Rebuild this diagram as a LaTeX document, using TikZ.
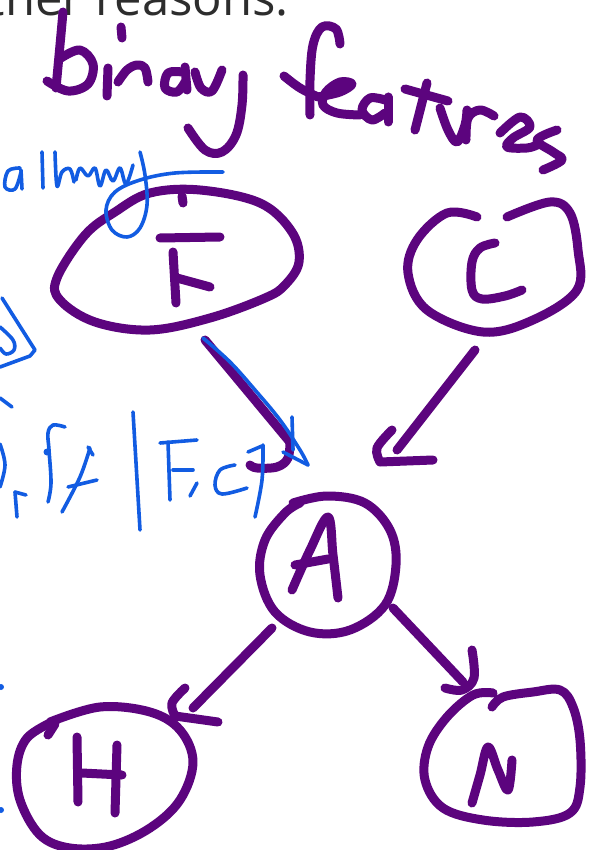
\documentclass[tikz,border=0pt]{standalone}
\usepackage{fontspec}
\newfontfamily\slidefont{Open Sans}
\definecolor{inkpurple}{RGB}{92,4,126}
\definecolor{inkblue}{RGB}{18,92,226}
\definecolor{slidegray}{RGB}{45,45,45}
\begin{document}
\begin{tikzpicture}[x=1pt,y=-1pt,
  ink/.style={draw=inkpurple,line width=9pt,line cap=round,line join=round},
  pen/.style={draw=inkblue,line width=3.6pt,line cap=round,line join=round},
  curve/.style={smooth,tension=0.6}]
\useasboundingbox (0,0) rectangle (596,850);
\clip (0,0) rectangle (596,850);
\fill[white] (0,0) rectangle (596,850);

% slide text running off the top edge
\node[anchor=base east,inner sep=0,text=slidegray,
      font=\slidefont\fontsize{49}{58}\selectfont] (heading) at (289,16) {ther reasons:};

% ---------- handwritten title: binary features ----------
% b
\draw[ink] plot[curve] coordinates {(63,12) (60,45) (56,88)};
\draw[ink] plot[curve] coordinates {(61,58) (80,50) (93,64) (88,84) (68,91) (47,81)};
% i
\draw[ink] (121,27) -- (122,38);
\draw[ink] (108,68) -- (107,96);
% n
\draw[ink] plot[curve] coordinates {(118,82) (127,70) (137,65) (145,68) (148,82)};
% a
\draw[ink] plot[curve] coordinates {(182,72) (168,73) (165,88) (177,92) (185,82)};
\draw[ink] (185,67) -- (187,90);
% y
\draw[ink] plot[curve] coordinates {(195,72) (201,88) (212,91) (222,70)};
\draw[ink] plot[curve] coordinates {(243,75) (242,105) (236,135) (222,152) (205,150) (188,128)};
% f
\draw[ink] plot[curve] coordinates {(340,44) (336,29) (322,27) (313,45) (310,80) (310,115)};
\draw[ink] plot[curve] coordinates {(284,76) (300,88) (318,97)};
% e
\draw[ink] plot[curve] coordinates {(318,97) (340,92) (352,84) (340,82) (326,92) (323,105) (337,113) (360,115)};
% a
\draw[ink] plot[curve] coordinates {(385,100) (370,98) (362,110) (372,120) (385,113)};
\draw[ink] (388,97) -- (388,122);
% t
\draw[ink] (427,83) -- (415,130);
\draw[ink] (405,89) -- (448,101);
% u
\draw[ink] plot[curve] coordinates {(440,108) (448,130) (457,142) (465,125) (467,110)};
% r
\draw[ink] plot[curve] coordinates {(466,140) (468,118) (480,110) (494,116)};
% e
\draw[ink] plot[curve] coordinates {(500,133) (520,117) (530,127) (513,138) (507,147) (527,148) (537,145)};
% s
\draw[ink] plot[curve] coordinates {(557,130) (537,140) (553,152) (562,160) (543,170)};

% ---------- graph nodes ----------
\coordinate (F) at (178,262);
\coordinate (C) at (494,266);
\coordinate (A) at (327,564);
\coordinate (H) at (100,778);
\coordinate (N) at (502,757);

% F
\draw[ink] plot[smooth cycle,tension=0.6] coordinates {(150,193) (200,190) (260,203) (292,232) (299,262)
   (285,285) (265,298) (210,318) (150,330) (95,322) (60,300) (57,278) (85,235) (115,212)};
\draw[ink] (182,196) -- (183,203);
\draw[ink] (160,238) -- (220,237);
\draw[ink] (173,252) -- (176,303);
\draw[ink] (177,278) -- (210,287);

% C
\draw[ink] plot[curve] coordinates {(477,217) (447,213) (417,240) (408,273) (427,310) (483,332)
   (533,320) (577,290) (578,250) (570,213) (550,202) (507,217)};
\draw[ink] plot[curve] coordinates {(495,243) (480,248) (472,262) (472,290) (482,299) (505,296) (522,290)};

% A
\draw[ink] plot[curve] coordinates {(293,503) (327,496) (365,503) (390,530) (396,565) (385,605)
   (350,630) (310,632) (275,612) (260,575) (265,540) (285,513) (300,503)};
\draw[ink] plot[curve] coordinates {(292,590) (310,550) (328,517) (333,555) (338,598)};
\draw[ink] (295,565) -- (328,559);

% H
\draw[ink] (48,735) -- (55,724);
\draw[ink] plot[curve] coordinates {(50,722) (100,707) (150,712) (180,730) (193,762) (180,800)
   (150,828) (110,846) (70,848) (40,835) (20,800) (17,765) (27,738) (52,722)};
\draw[ink] (77,737) -- (78,802);
\draw[ink] (117,745) -- (115,813);
\draw[ink] (82,773) -- (122,775);

% N
\draw[ink] plot[curve] coordinates {(492,707) (503,697) (533,692) (560,690) (573,707) (580,740)
   (580,787) (570,813) (533,822) (483,820) (443,808) (425,780) (428,747) (447,717) (473,695) (493,693)};
\draw[ink] plot[curve] coordinates {(472,803) (480,775) (488,747) (498,770) (508,790) (512,760)};

% ---------- arrows ----------
\coordinate (FA-tail) at (205,340);  \coordinate (FA-tip) at (289,441);
\coordinate (CA-tail) at (475,350);  \coordinate (CA-tip) at (397,450);
\coordinate (AH-tail) at (272,628);  \coordinate (AH-tip) at (193,708);
\coordinate (AN-tail) at (393,608);  \coordinate (AN-tip) at (463,682);

\draw[ink] (FA-tail) -- (FA-tip);
\draw[ink] plot[curve] coordinates {(290,440) (288,458) (277,467) (257,468) (250,465)};

\draw[ink] (CA-tail) -- (CA-tip);
\draw[ink] plot[curve] coordinates {(392,430) (377,448) (380,462)} -- (433,460);

\draw[ink] (AH-tail) -- (AH-tip);
\draw[ink] plot[curve] coordinates {(185,688) (172,703) (175,716)} -- (218,722);

\draw[ink] (AN-tail) -- (AN-tip);
\draw[ink] plot[curve] coordinates {(472,650) (474,678) (462,690) (445,688)};

% ---------- blue annotations ----------
% albray with its looping tail
\draw[pen] plot[curve] coordinates {(20,168) (8,171) (5,187) (15,189) (21,172)};
\draw[pen] (21,170) -- (22,189);
\draw[pen] (42,152) -- (43,188);
\draw[pen] plot[curve] coordinates {(55,152) (57,186) (62,172) (70,169) (74,182)};
\draw[pen] plot[curve] coordinates {(76,180) (80,168) (88,176) (95,168) (100,186) (106,170)
   (113,181) (120,168) (126,184) (133,165)};
\draw[pen] plot[curve] coordinates {(140,152) (145,175) (147,205) (140,228) (127,237) (112,230)
   (106,210) (115,192) (140,180) (175,173) (223,172)};

% triangle at the left edge
\draw[pen] (2,298) -- (35,350) -- (30,356) -- (0,367);
\draw[pen] plot[curve] coordinates {(0,327) (13,340) (14,350) (6,354) (0,348)};
\draw[pen] (0,398) -- (12,407);

% {f, f} | {F, C}
\draw[pen] plot[curve] coordinates {(0,444) (5,465) (0,487)};
\draw[pen] (15,492) -- (17,517);
\draw[pen] (15,492) -- (26,495);
\draw[pen] plot[curve] coordinates {(65,427) (53,425) (48,433) (49,450) (51,483) (48,502)};
\fill[inkblue] (47,452) circle (3.5);
\draw[pen] (88,447) -- (93,455);
\draw[pen] plot[curve] coordinates {(90,448) (80,477) (62,512)};
\draw[pen] (68,487) -- (97,480);
\draw[pen] (133,412) -- (140,530);
\draw[pen] (168,442) -- (170,500);
\draw[pen] (160,443) -- (197,440);
\draw[pen] (173,470) -- (193,470);
\draw[pen] (197,483) -- (190,496);
\draw[pen] plot[curve] coordinates {(235,465) (220,470) (215,485) (222,494) (247,488)};
\draw[pen] (248,452) -- (262,446);
\draw[pen] plot[curve] coordinates {(263,445) (262,480) (255,517)};

% blue trace along F -> A
\draw[pen] plot[curve] coordinates {(203,338) (230,362) (255,390) (280,420) (300,450) (308,465)};
\draw[pen] (292,417) -- (293,450);
\draw[pen] (283,452) -- (308,465);

% dots at the left edge
\fill[inkblue] (1,687) circle (3);
\fill[inkblue] (1,810) circle (3);
\end{tikzpicture}
\end{document}
